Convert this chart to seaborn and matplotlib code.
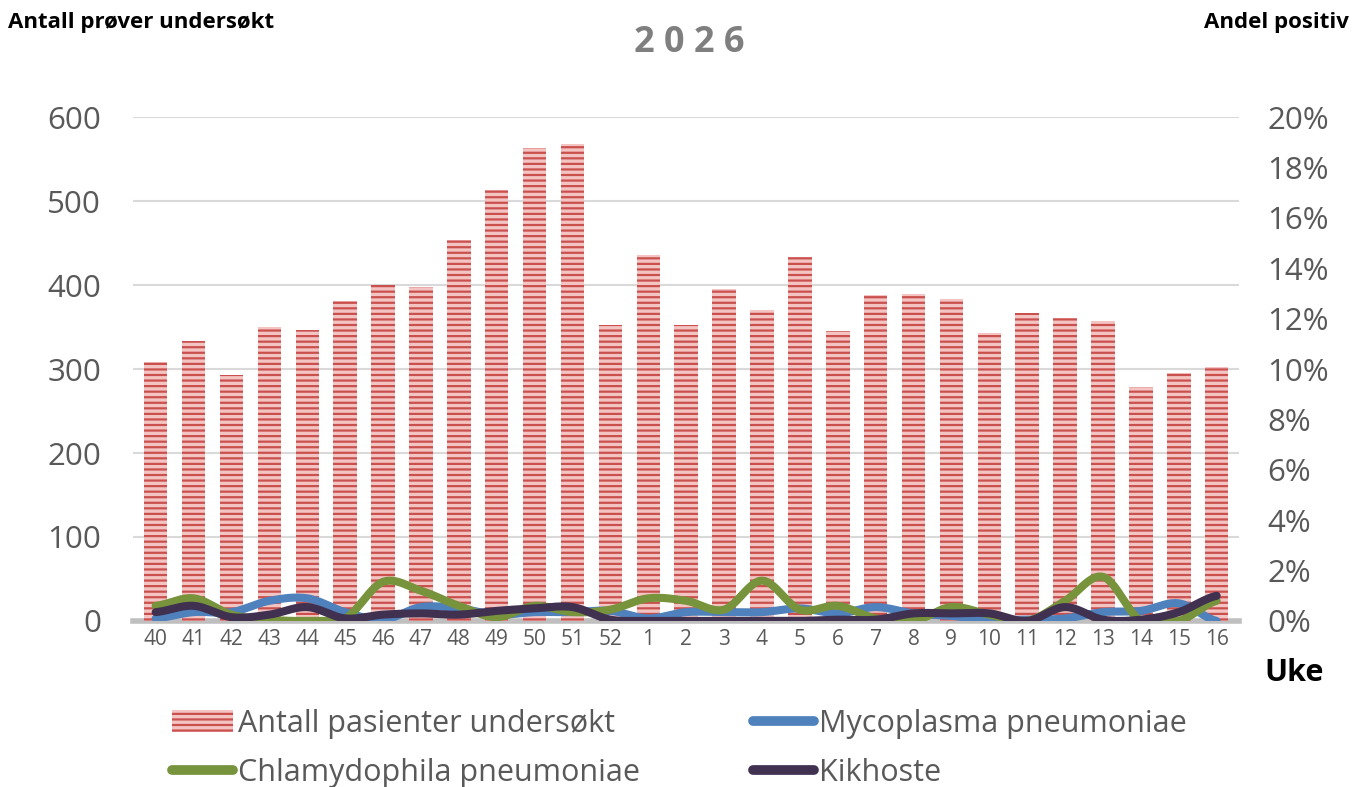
import numpy as np
import pandas as pd
import matplotlib
matplotlib.use('Agg')
import matplotlib.pyplot as plt
import seaborn as sns
from matplotlib.lines import Line2D
from matplotlib.patches import Patch

# Data
weeks = ['40', '41', '42', '43', '44', '45', '46', '47', '48', '49', '50', '51', '52',
         '1', '2', '3', '4', '5', '6', '7', '8', '9', '10', '11', '12', '13', '14', '15', '16']
antall = [308, 333, 293, 350, 346, 381, 400, 398, 454, 513, 563, 568, 352,
          436, 352, 396, 370, 433, 345, 388, 389, 383, 343, 367, 361, 357, 279, 295, 302]
mycoplasma = [0.1, 0.35, 0.35, 0.8, 0.9, 0.35, 0.05, 0.55, 0.5, 0.25, 0.35, 0.35, 0.4,
              0.1, 0.35, 0.35, 0.35, 0.5, 0.3, 0.55, 0.3, 0.2, 0.05, 0.05, 0.1, 0.35, 0.4, 0.7, 0.0]
chlamydophila = [0.6, 0.9, 0.25, 0.05, 0.0, 0.1, 1.55, 1.2, 0.6, 0.15, 0.6, 0.35, 0.45,
                 0.9, 0.8, 0.45, 1.6, 0.45, 0.6, 0.1, 0.0, 0.55, 0.25, 0.0, 0.8, 1.75, 0.0, 0.0, 0.8]
kikhoste = [0.35, 0.6, 0.15, 0.25, 0.55, 0.1, 0.25, 0.3, 0.25, 0.4, 0.5, 0.55, 0.05,
            0.0, 0.0, 0.0, 0.0, 0.0, 0.05, 0.05, 0.3, 0.3, 0.3, 0.0, 0.55, 0.05, 0.05, 0.35, 1.0]

grey = '#595959'
plt.rcParams['font.family'] = ['Open Sans', 'DejaVu Sans']
plt.rcParams['hatch.linewidth'] = 1.6


def smooth(y, n=24):
    # Catmull-Rom curve through the points (like Excel's smoothed line)
    y = np.asarray(y, dtype=float)
    p = np.concatenate([[y[0]], y, [y[-1]]])
    xs, ys = [], []
    for i in range(len(y) - 1):
        t = np.linspace(0, 1, n, endpoint=False)
        p0, p1, p2, p3 = p[i], p[i + 1], p[i + 2], p[i + 3]
        yy = 0.5 * ((2 * p1) + (-p0 + p2) * t + (2 * p0 - 5 * p1 + 4 * p2 - p3) * t ** 2
                    + (-p0 + 3 * p1 - 3 * p2 + p3) * t ** 3)
        xs.append(i + t)
        ys.append(yy)
    xs.append([len(y) - 1])
    ys.append([y[-1]])
    return np.concatenate(xs), np.clip(np.concatenate(ys), 0, None)


df = pd.DataFrame({'uke': weeks, 'antall': antall})

fig = plt.figure(figsize=(13.65, 7.87), dpi=100)
ax = fig.add_axes([0.0974, 0.211, 0.8106, 0.64])

sns.barplot(data=df, x='uke', y='antall', order=weeks, ax=ax, color='#f4c4c3',
            saturation=1, width=0.62, hatch='---', edgecolor='#c9504d', linewidth=0, zorder=2)

ax.set_ylim(0, 600)
ax.set_xlim(-0.6, len(weeks) - 0.4)
ax.set_yticks(range(0, 601, 100))
ax.grid(axis='y', color='#d9d9d9', linewidth=1.5, zorder=0)
ax.set_axisbelow(True)
for s in ['top', 'right', 'left']:
    ax.spines[s].set_visible(False)
ax.spines['bottom'].set_color('#bfbfbf')
ax.spines['bottom'].set_linewidth(4)
ax.spines['bottom'].set_zorder(1)
ax.tick_params(axis='y', length=0, labelsize=22.5, labelcolor=grey, pad=23)
ax.tick_params(axis='x', length=0, labelsize=15, labelcolor=grey, pad=6)
ax.set_xlabel('')
ax.set_ylabel('')

ax2 = ax.twinx()
ax2.set_ylim(0, 20)
ax2.set_yticks(range(0, 21, 2))
ax2.set_yticklabels([f'{v}%' for v in range(0, 21, 2)])
ax2.tick_params(axis='y', length=0, labelsize=22.5, labelcolor=grey, pad=20)
for s in ax2.spines.values():
    s.set_visible(False)

series = [(mycoplasma, '#4f81bd'), (chlamydophila, '#77933c'), (kikhoste, '#403151')]
for vals, col in series:
    xs, ys = smooth(vals)
    sns.lineplot(x=xs, y=ys, ax=ax2, color=col, linewidth=5.8, sort=False,
                 solid_capstyle='round', solid_joinstyle='round')

fig.text(0.505, 0.945, '2 0 2 6', ha='center', va='center', fontsize=26,
         fontweight='bold', color='#7f7f7f')
fig.text(0.006, 0.971, 'Antall prøver undersøkt', ha='left', va='center',
         fontsize=16, fontweight='bold', color='black')
fig.text(0.988, 0.971, 'Andel positiv', ha='right', va='center',
         fontsize=16, fontweight='bold', color='black')
fig.text(0.948, 0.145, 'Uke', ha='center', va='center', fontsize=22,
         fontweight='bold', color='black')

handles = [
    Patch(facecolor='#f4c4c3', hatch='---', edgecolor='#c9504d', linewidth=0),
    Line2D([0], [0], color='#77933c', linewidth=7, solid_capstyle='round'),
    Line2D([0], [0], color='#4f81bd', linewidth=7, solid_capstyle='round'),
    Line2D([0], [0], color='#403151', linewidth=7, solid_capstyle='round'),
]
labels = ['Antall pasienter undersøkt', 'Chlamydophila pneumoniae',
          'Mycoplasma pneumoniae', 'Kikhoste']
fig.legend(handles, labels, ncol=2, loc='lower left', bbox_to_anchor=(0.106, -0.036),
           frameon=False, fontsize=22, labelcolor=grey, handlelength=2.0,
           handletextpad=0.15, columnspacing=3.7, labelspacing=0.62)

fig.savefig('out.png', dpi=100)
